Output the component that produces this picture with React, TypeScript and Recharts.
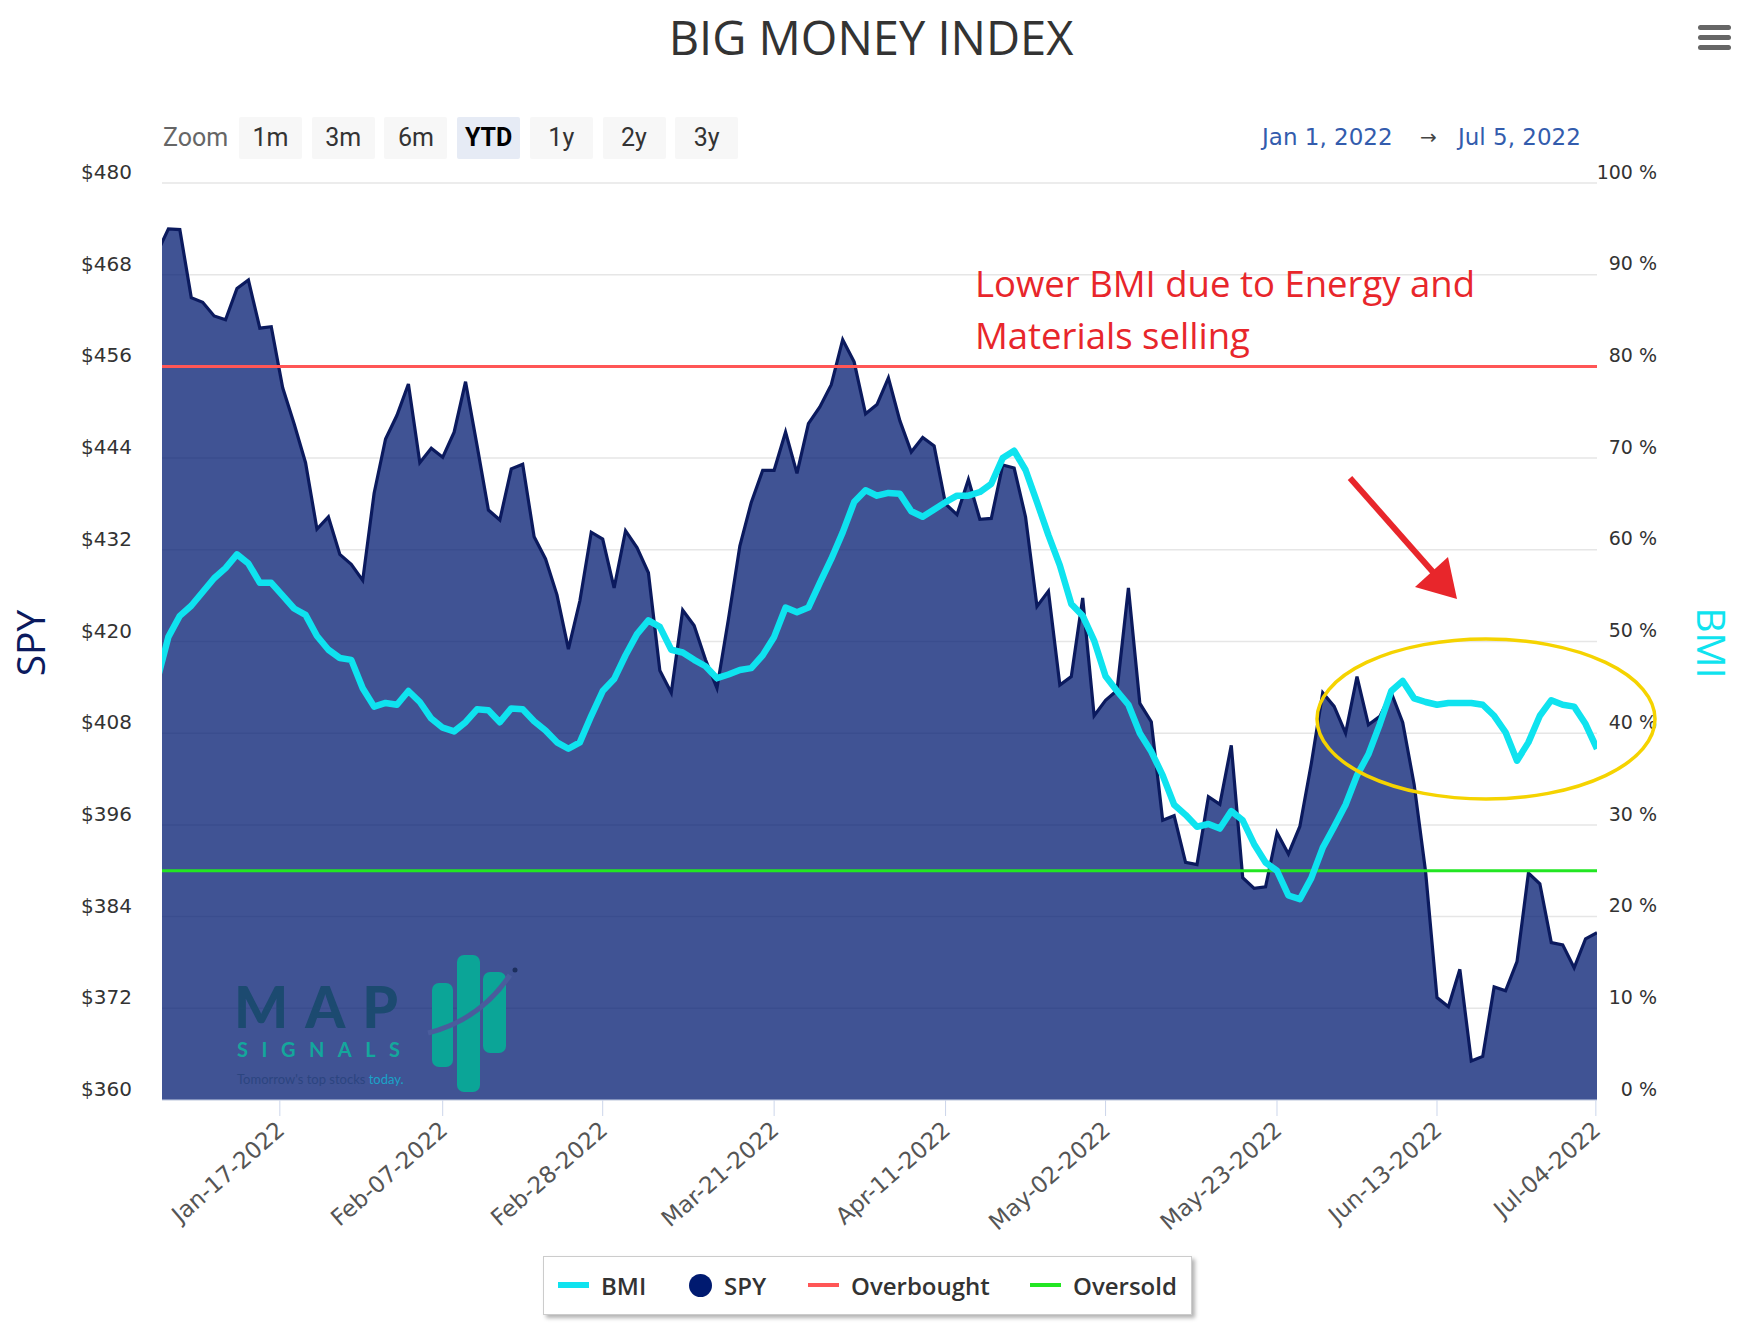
import React from "react";
import { ComposedChart, Area, Line, XAxis, YAxis, CartesianGrid, ReferenceLine } from "recharts";

// Trading days shown on the chart (Dec-31-2021 .. Jul-05-2022)
const DATES: string[] = [
  "Dec-31-2021",
  "Jan-03-2022","Jan-04-2022","Jan-05-2022","Jan-06-2022","Jan-07-2022","Jan-10-2022","Jan-11-2022","Jan-12-2022","Jan-13-2022","Jan-14-2022",
  "Jan-18-2022","Jan-19-2022","Jan-20-2022","Jan-21-2022","Jan-24-2022","Jan-25-2022","Jan-26-2022","Jan-27-2022","Jan-28-2022","Jan-31-2022",
  "Feb-01-2022","Feb-02-2022","Feb-03-2022","Feb-04-2022","Feb-07-2022","Feb-08-2022","Feb-09-2022","Feb-10-2022","Feb-11-2022","Feb-14-2022",
  "Feb-15-2022","Feb-16-2022","Feb-17-2022","Feb-18-2022","Feb-22-2022","Feb-23-2022","Feb-24-2022","Feb-25-2022","Feb-28-2022",
  "Mar-01-2022","Mar-02-2022","Mar-03-2022","Mar-04-2022","Mar-07-2022","Mar-08-2022","Mar-09-2022","Mar-10-2022","Mar-11-2022","Mar-14-2022",
  "Mar-15-2022","Mar-16-2022","Mar-17-2022","Mar-18-2022","Mar-21-2022","Mar-22-2022","Mar-23-2022","Mar-24-2022","Mar-25-2022","Mar-28-2022",
  "Mar-29-2022","Mar-30-2022","Mar-31-2022",
  "Apr-01-2022","Apr-04-2022","Apr-05-2022","Apr-06-2022","Apr-07-2022","Apr-08-2022","Apr-11-2022","Apr-12-2022","Apr-13-2022","Apr-14-2022",
  "Apr-18-2022","Apr-19-2022","Apr-20-2022","Apr-21-2022","Apr-22-2022","Apr-25-2022","Apr-26-2022","Apr-27-2022","Apr-28-2022","Apr-29-2022",
  "May-02-2022","May-03-2022","May-04-2022","May-05-2022","May-06-2022","May-09-2022","May-10-2022","May-11-2022","May-12-2022","May-13-2022",
  "May-16-2022","May-17-2022","May-18-2022","May-19-2022","May-20-2022","May-23-2022","May-24-2022","May-25-2022","May-26-2022","May-27-2022",
  "May-31-2022",
  "Jun-01-2022","Jun-02-2022","Jun-03-2022","Jun-06-2022","Jun-07-2022","Jun-08-2022","Jun-09-2022","Jun-10-2022","Jun-13-2022","Jun-14-2022",
  "Jun-15-2022","Jun-16-2022","Jun-17-2022","Jun-21-2022","Jun-22-2022","Jun-23-2022","Jun-24-2022","Jun-27-2022","Jun-28-2022","Jun-29-2022",
  "Jun-30-2022",
  "Jul-01-2022","Jul-05-2022",
];

const SPY: number[] = [
  470.8,
  474.0, 473.9, 465.0, 464.4, 462.6, 462.1, 466.2, 467.3, 461.0, 461.2,
  453.2, 448.5, 443.4, 434.7, 436.3, 431.4, 430.1, 428.0, 439.4, 446.5,
  449.6, 453.7, 443.4, 445.3, 444.1, 447.4, 454.0, 445.7, 437.2, 435.9,
  442.6, 443.2, 433.7, 430.8, 426.1, 419.0, 425.3, 434.3, 433.4,
  427.0, 434.5, 432.3, 429.0, 416.2, 413.3, 424.1, 422.1, 417.6, 413.9,
  422.9, 432.5, 438.2, 442.4, 442.4, 447.4, 442.0, 448.5, 450.7, 453.6,
  459.5, 456.6, 449.8,
  451.0, 454.5, 448.9, 444.8, 446.7, 445.6, 438.0, 436.6, 441.2, 436.0,
  436.1, 443.1, 442.7, 436.3, 424.6, 426.6, 414.3, 415.4, 425.7, 410.3,
  412.3, 413.6, 427.0, 411.9, 409.5, 396.6, 397.2, 391.1, 390.8, 399.7,
  398.7, 406.4, 389.1, 387.7, 387.9, 395.0, 392.2, 395.8, 404.0, 413.3,
  411.5,
  408.0, 415.4, 409.1, 410.2, 413.3, 409.4, 401.3, 389.9, 373.4, 372.2,
  377.1, 365.1, 365.7, 374.8, 374.3, 378.1, 389.7, 388.3, 380.6, 380.3,
  377.3,
  381.1, 381.9,
];

const BMI: number[] = [
  45.7,
  50.5, 52.8, 53.9, 55.4, 56.9, 58.0, 59.5, 58.5, 56.4, 56.4,
  55.0, 53.6, 52.9, 50.6, 49.1, 48.2, 48.0, 44.9, 42.9, 43.3,
  43.1, 44.6, 43.4, 41.6, 40.6, 40.2, 41.2, 42.6, 42.5, 41.2,
  42.7, 42.6, 41.3, 40.3, 39.0, 38.3, 39.0, 41.9, 44.6,
  45.9, 48.5, 50.8, 52.3, 51.6, 49.1, 48.8, 48.0, 47.3, 46.0,
  46.4, 46.9, 47.1, 48.5, 50.5, 53.7, 53.2, 53.7, 56.4, 59.0,
  61.9, 65.2, 66.5,
  65.9, 66.2, 66.1, 64.2, 63.6, 64.4, 65.2, 65.9, 65.9, 66.3,
  67.2, 70.0, 70.8, 68.7, 65.2, 61.6, 58.3, 54.1, 52.8, 50.1,
  46.2, 44.6, 43.1, 40.0, 38.0, 35.4, 32.2, 31.1, 29.8, 30.1,
  29.6, 31.5, 30.5, 27.9, 25.9, 25.0, 22.3, 21.9, 24.2, 27.5,
  29.8,
  32.2, 35.4, 37.7, 41.0, 44.6, 45.7, 43.8, 43.4, 43.1, 43.3,
  43.3, 43.3, 43.1, 41.9, 40.1, 37.0, 39.0, 41.9, 43.6, 43.1,
  42.9,
  41.0, 38.3,
];

const OVERBOUGHT = 80;
const OVERSOLD = 25;

// x-axis ticks (weekly Mondays, placed on the ordinal trading-day scale)
const TICK_POS: number[] = [10.75, 25, 39, 54, 69, 83, 98, 112, 125.9];
const TICK_LABELS: string[] = [
  "Jan-17-2022", "Feb-07-2022", "Feb-28-2022", "Mar-21-2022", "Apr-11-2022",
  "May-02-2022", "May-23-2022", "Jun-13-2022", "Jul-04-2022",
];
const SPY_TICKS: number[] = [360, 372, 384, 396, 408, 420, 432, 444, 456, 468, 480];
const BMI_TICKS: number[] = [0, 10, 20, 30, 40, 50, 60, 70, 80, 90, 100];
const ZOOM_BUTTONS: string[] = ["1m", "3m", "6m", "YTD", "1y", "2y", "3y"];
const SELECTED_BUTTON = "YTD";

const rows = DATES.map((d, i) => ({ i, date: d, spy: SPY[i], bmi: BMI[i] }));

const NAVY = "#0b1a5e";
const FILL = "#001a70";
const CYAN = "#0fe3ef";
const RED = "#ff5656";
const GREEN = "#22e622";
const ANNOT = "#e8262b";

const LeftTick = (props: any) => {
  const { x, y, payload } = props;
  return (
    <text x={x - 30} y={y - 11} dy="0.35em" textAnchor="end" fill="#333" fontSize={20} fontFamily="DejaVu Sans">
      {"$" + payload.value}
    </text>
  );
};

const RightTick = (props: any) => {
  const { x, y, payload } = props;
  return (
    <text x={x + 60} y={y - 11} dy="0.35em" textAnchor="end" fill="#333" fontSize={19} fontFamily="DejaVu Sans">
      {payload.value + " %"}
    </text>
  );
};

const BottomTick = (props: any) => {
  const { x, y, payload } = props;
  const idx = TICK_POS.indexOf(payload.value);
  const label = idx >= 0 ? TICK_LABELS[idx] : "";
  return (
    <g transform={`translate(${x + 1},${y + 8})`}>
      <text textAnchor="end" transform="rotate(-41)" dy="0.35em" fill="#555" fontSize={23} fontFamily="DejaVu Sans">
        {label}
      </text>
    </g>
  );
};

export default function App() {
  return (
    <div style={{ position: "absolute", left: 0, top: 0, width: 1754, height: 1324, background: "#fff", overflow: "hidden" }}>
      <ComposedChart width={1754} height={1324} data={rows} margin={{ top: 183, right: 77, bottom: 84, left: 82 }}>
        <CartesianGrid yAxisId="spy" vertical={false} stroke="#e6e6e6" strokeWidth={1.5} />
        <XAxis
          dataKey="i"
          type="number"
          domain={[0.44, 126]}
          allowDataOverflow
          ticks={TICK_POS}
          interval={0}
          height={140}
          tick={(p: any) => <BottomTick {...p} />}
          tickSize={16}
          tickMargin={2}
          stroke="#ccd6eb"
          tickLine={{ stroke: "#ccd6eb" }}
          axisLine={{ stroke: "#ccd6eb" }}
        />
        <YAxis
          yAxisId="spy"
          orientation="left"
          domain={[360, 480]}
          ticks={SPY_TICKS}
          interval={0}
          width={80}
          axisLine={false}
          tickLine={false}
          tickSize={0}
          tickMargin={0}
          tick={(p: any) => <LeftTick {...p} />}
        />
        <YAxis
          yAxisId="bmi"
          orientation="right"
          domain={[0, 100]}
          ticks={BMI_TICKS}
          interval={0}
          width={80}
          axisLine={false}
          tickLine={false}
          tickSize={0}
          tickMargin={0}
          tick={(p: any) => <RightTick {...p} />}
        />
        <Area
          yAxisId="spy"
          dataKey="spy"
          type="linear"
          stroke={NAVY}
          strokeWidth={3.2}
          fill={FILL}
          fillOpacity={0.75}
          dot={false}
          activeDot={false}
          isAnimationActive={false}
        />
        <ReferenceLine yAxisId="bmi" y={OVERBOUGHT} stroke={RED} strokeWidth={3} />
        <ReferenceLine yAxisId="bmi" y={OVERSOLD} stroke={GREEN} strokeWidth={3} />
        <Line
          yAxisId="bmi"
          dataKey="bmi"
          type="linear"
          stroke={CYAN}
          strokeWidth={6.5}
          strokeLinejoin="round"
          dot={false}
          activeDot={false}
          isAnimationActive={false}
        />
      </ComposedChart>

      {/* Title */}
      <div style={{ position: "absolute", left: 0, width: 1742, top: 8, textAlign: "center", fontFamily: "Open Sans", fontSize: 47, color: "#333", lineHeight: "58px" }}>
        BIG MONEY INDEX
      </div>

      {/* Hamburger */}
      {[27, 37, 47].map((yy) => (
        <div key={yy} style={{ position: "absolute", left: 1698, top: yy - 2.5, width: 33, height: 5, borderRadius: 3, background: "#666" }} />
      ))}

      {/* Range selector */}
      <div style={{ position: "absolute", left: 163, top: 117, height: 42, lineHeight: "42px", fontFamily: "Roboto", fontSize: 25, color: "#666" }}>Zoom</div>
      {ZOOM_BUTTONS.map((b, k) => (
        <div
          key={b}
          style={{
            position: "absolute",
            left: 239 + k * 72.7,
            top: 117,
            width: 63,
            height: 42,
            lineHeight: "42px",
            textAlign: "center",
            background: b === SELECTED_BUTTON ? "#e6ebf5" : "#f7f7f7",
            borderRadius: 2,
            fontFamily: "Roboto",
            fontSize: 25,
            fontWeight: b === SELECTED_BUTTON ? 700 : 400,
            color: b === SELECTED_BUTTON ? "#000" : "#333",
          }}
        >
          {b}
        </div>
      ))}
      <div style={{ position: "absolute", left: 1262, top: 120, lineHeight: "34px", fontFamily: "DejaVu Sans", fontSize: 23, color: "#335cad", whiteSpace: "nowrap" }}>Jan 1, 2022</div>
      <div style={{ position: "absolute", left: 1420, top: 120, lineHeight: "34px", fontFamily: "DejaVu Sans", fontSize: 20, color: "#444" }}>→</div>
      <div style={{ position: "absolute", left: 1458, top: 120, lineHeight: "34px", fontFamily: "DejaVu Sans", fontSize: 23, color: "#335cad", whiteSpace: "nowrap" }}>Jul 5, 2022</div>

      {/* Axis titles */}
      <div style={{ position: "absolute", left: 29, top: 643, transform: "translate(-50%,-50%) rotate(-90deg)", fontFamily: "Open Sans", fontSize: 39, color: NAVY, whiteSpace: "nowrap" }}>SPY</div>
      <div style={{ position: "absolute", left: 1712, top: 643, transform: "translate(-50%,-50%) rotate(90deg)", fontFamily: "Open Sans", fontSize: 39, color: CYAN, whiteSpace: "nowrap" }}>BMI</div>

      {/* Annotation text */}
      <div style={{ position: "absolute", left: 975, top: 257, fontFamily: "Open Sans", fontSize: 36.5, lineHeight: "52px", color: ANNOT, whiteSpace: "nowrap" }}>
        Lower BMI due to Energy and
        <br />
        Materials selling
      </div>

      {/* Decorations: arrow, ellipse, logo */}
      <svg width={1754} height={1324} style={{ position: "absolute", left: 0, top: 0, pointerEvents: "none" }}>
        <line x1={1350} y1={478} x2={1440} y2={580} stroke={ANNOT} strokeWidth={6} />
        <polygon points="1457,599 1415,587 1448,557" fill={ANNOT} />
        <ellipse cx={1486} cy={719} rx={169} ry={80} fill="none" stroke="#f5d300" strokeWidth={3.5} />

        <g>
          <text x={234} y={1028} fontFamily="Lato" fontWeight={900} fontSize={57} letterSpacing={17} fill="#1c4a70">MAP</text>
          <text x={237} y={1057} fontFamily="Lato" fontWeight={700} fontSize={20} letterSpacing={13.5} fill="#14a79c">SIGNALS</text>
          <text x={237} y={1084} fontFamily="Lato" fontSize={13} fill="#2c4580">
            Tomorrow's top stocks <tspan fill="#1aa3c8">today.</tspan>
          </text>
          <rect x={432} y={983} width={21} height={84} rx={7} fill="#0ba597" />
          <rect x={457} y={955} width={23} height={137} rx={7} fill="#0ba597" />
          <rect x={483} y={972} width={23} height={81} rx={7} fill="#0ba597" />
          <path d="M 428 1033 Q 480 1020 510 975" stroke="#4a5c9c" strokeWidth={5} fill="none" />
          <circle cx={515} cy={970} r={2.5} fill="#1c2f5e" />
        </g>
      </svg>

      {/* Legend */}
      <div
        style={{
          position: "absolute",
          left: 543,
          top: 1256,
          width: 647,
          height: 57,
          background: "#fff",
          border: "1px solid #cccccc",
          boxShadow: "3px 3px 4px rgba(0,0,0,0.3)",
          fontFamily: "Open Sans",
          fontWeight: 600,
          fontSize: 24,
          color: "#333",
        }}
      >
        <div style={{ position: "absolute", left: 14, top: 25, width: 31, height: 6, background: CYAN }} />
        <div style={{ position: "absolute", left: 57, top: 0, lineHeight: "57px" }}>BMI</div>
        <div style={{ position: "absolute", left: 145, top: 17, width: 23, height: 23, borderRadius: "50%", background: "#001a70" }} />
        <div style={{ position: "absolute", left: 180, top: 0, lineHeight: "57px" }}>SPY</div>
        <div style={{ position: "absolute", left: 264, top: 26, width: 31, height: 4, background: RED }} />
        <div style={{ position: "absolute", left: 307, top: 0, lineHeight: "57px" }}>Overbought</div>
        <div style={{ position: "absolute", left: 486, top: 26, width: 31, height: 4, background: GREEN }} />
        <div style={{ position: "absolute", left: 529, top: 0, lineHeight: "57px" }}>Oversold</div>
      </div>
    </div>
  );
}
